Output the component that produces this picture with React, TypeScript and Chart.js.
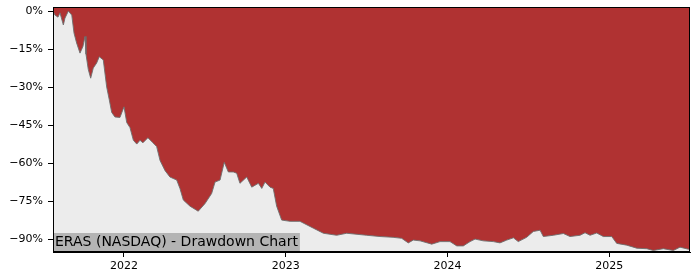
import React, { useEffect, useRef } from "react";
import { Chart, registerables } from "chart.js";

Chart.register(...registerables);

// Dates as decimal years, drawdown in percent
const dates: number[] = [
  2021.561, 2021.573, 2021.592, 2021.604, 2021.625, 2021.635, 2021.656, 2021.677, 2021.691, 2021.707,
  2021.728, 2021.746, 2021.759, 2021.765, 2021.779, 2021.794, 2021.810, 2021.831, 2021.847, 2021.872,
  2021.893, 2021.909, 2021.924, 2021.944, 2021.975, 2022.000, 2022.017, 2022.037, 2022.058, 2022.079,
  2022.099, 2022.117, 2022.148, 2022.179, 2022.202, 2022.223, 2022.254, 2022.284, 2022.326, 2022.346,
  2022.367, 2022.408, 2022.459, 2022.501, 2022.542, 2022.563, 2022.594, 2022.620, 2022.645, 2022.676,
  2022.697, 2022.717, 2022.759, 2022.790, 2022.831, 2022.852, 2022.872, 2022.903, 2022.923, 2022.944,
  2022.975, 2023.027, 2023.088, 2023.171, 2023.233, 2023.315, 2023.377, 2023.501, 2023.583, 2023.664,
  2023.717, 2023.758, 2023.789, 2023.831, 2023.903, 2023.954, 2024.016, 2024.058, 2024.098, 2024.140,
  2024.171, 2024.222, 2024.284, 2024.325, 2024.367, 2024.408, 2024.438, 2024.490, 2024.531, 2024.573,
  2024.593, 2024.655, 2024.717, 2024.758, 2024.820, 2024.851, 2024.882, 2024.923, 2024.964, 2025.016,
  2025.047, 2025.109, 2025.171, 2025.233, 2025.273, 2025.335, 2025.397, 2025.438, 2025.490, 2025.500,
];

const drawdown: number[] = [
  0, -1.6, -2.4, -0.7, -5.5, -2.8, 0, -1.6, -8.7, -12.6,
  -16.6, -14, -10, -17, -23, -26.5, -22.5, -20.5, -18, -19.3,
  -30, -35, -40, -41.8, -42, -37.8, -44, -46, -51, -52.5,
  -51, -52, -50, -52, -53.5, -59, -63, -65.5, -66.7, -70,
  -74.6, -77, -79, -76, -72, -67.5, -66.7, -59.7, -63.5, -63.5,
  -64, -68, -65.5, -69.5, -68, -70, -67.5, -69.5, -70, -77,
  -82.5, -83, -83, -85.7, -87.7, -88.5, -87.7, -88.5, -89, -89.3,
  -89.7, -91.5, -90.4, -90.7, -92, -91, -91, -92.7, -92.7, -91,
  -90, -90.7, -91, -91.5, -90.4, -89.5, -91, -89.3, -87, -86.5,
  -89, -88.5, -87.8, -89, -88.5, -87.5, -88.5, -87.6, -89, -89,
  -91.7, -92.4, -93.6, -93.8, -94.5, -93.8, -94.5, -93.2, -94, -94,
];

const yTicks: number[] = [0, -15, -30, -45, -60, -75, -90];
const xTicks: number[] = [2022, 2023, 2024, 2025];
const title = "ERAS (NASDAQ) - Drawdown Chart";

const framePlugin = {
  id: "frame",
  beforeDatasetsDraw(chart: any) {
    const { ctx, chartArea: a } = chart;
    ctx.save();
    ctx.fillStyle = "#ececec";
    ctx.fillRect(a.left, a.top, a.right - a.left, a.bottom - a.top);
    ctx.restore();
  },
  afterDatasetsDraw(chart: any) {
    const { ctx, chartArea: a } = chart;
    ctx.save();
    ctx.font = "14px 'DejaVu Sans'";
    const w = ctx.measureText(title).width;
    ctx.fillStyle = "#b4b4b4";
    ctx.fillRect(a.left, a.bottom - 19, w + 4, 18);
    ctx.fillStyle = "#000";
    ctx.textBaseline = "middle";
    ctx.fillText(title, a.left + 2, a.bottom - 9.5);
    ctx.strokeStyle = "#000";
    ctx.lineWidth = 1;
    ctx.strokeRect(a.left + 0.5, a.top + 0.5, a.right - a.left - 1, a.bottom - a.top - 1);
    ctx.restore();
  },
};

export default function App() {
  const ref = useRef<HTMLCanvasElement>(null);
  useEffect(() => {
    document.body.style.margin = "0";
    const chart = new Chart(ref.current!, {
      type: "line",
      data: {
        datasets: [
          {
            data: dates.map((d, i) => ({ x: d, y: drawdown[i] })),
            borderColor: "rgba(110,110,110,0.9)",
            borderWidth: 1,
            backgroundColor: "#b03232",
            fill: "end",
            pointRadius: 0,
            tension: 0,
          },
        ],
      },
      options: {
        animation: false,
        responsive: false,
        layout: { padding: { top: 7, right: 10, left: 0, bottom: 0 } },
        plugins: { legend: { display: false }, tooltip: { enabled: false } },
        scales: {
          x: {
            type: "linear",
            min: 2021.561,
            max: 2025.5,
            afterBuildTicks: (s: any) => {
              s.ticks = xTicks.map((v) => ({ value: v }));
            },
            afterFit: (s: any) => {
              s.height = 28;
              s.paddingLeft = 0;
              s.paddingRight = 0;
            },
            ticks: {
              color: "#000",
              font: { family: "'DejaVu Sans'", size: 11 },
              padding: 3,
              maxRotation: 0,
              callback: (v: any) => String(v),
            },
            grid: { display: true, drawOnChartArea: false, drawTicks: true, tickLength: 5, color: "#000" },
            border: { display: true, color: "#000" },
          },
          y: {
            type: "linear",
            min: -95.1,
            max: 1.6,
            afterBuildTicks: (s: any) => {
              s.ticks = yTicks.map((v) => ({ value: v }));
            },
            afterFit: (s: any) => {
              s.width = 53;
              s.paddingTop = 0;
              s.paddingBottom = 0;
            },
            ticks: {
              color: "#000",
              font: { family: "'DejaVu Sans'", size: 11 },
              padding: 5,
              callback: (v: any) => (v < 0 ? "\u2212" + Math.abs(v) : String(v)) + "%",
            },
            grid: { display: true, drawOnChartArea: false, drawTicks: true, tickLength: 5, color: "#000" },
            border: { display: true, color: "#000" },
          },
        },
      },
      plugins: [framePlugin],
    } as any);
    return () => chart.destroy();
  }, []);
  return (
    <div style={{ position: "absolute", left: 0, top: 0, width: 700, height: 280, background: "#fff" }}>
      <canvas ref={ref} width={700} height={280} style={{ width: 700, height: 280 }} />
    </div>
  );
}
